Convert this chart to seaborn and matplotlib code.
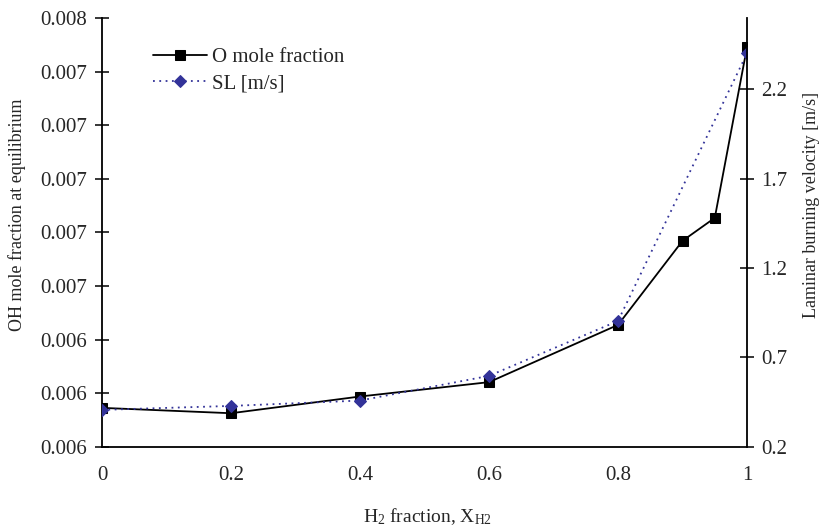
import pandas as pd
import matplotlib
matplotlib.use("Agg")
import matplotlib.pyplot as plt
import seaborn as sns

# Data
h2_fraction = [0.0, 0.2, 0.4, 0.6, 0.8, 0.9, 0.95, 1.0]
o_mole_fraction = [0.006182, 0.006157, 0.006235, 0.006302, 0.006569, 0.006961, 0.007068, 0.007865]
sl_x = [0.0, 0.2, 0.4, 0.6, 0.8, 1.0]
sl_values = [0.407, 0.429, 0.459, 0.597, 0.904, 2.40]

left_ticks = [0.006, 0.00625, 0.0065, 0.00675, 0.007, 0.00725, 0.0075, 0.00775, 0.008]
left_labels = ["0.006", "0.006", "0.006", "0.007", "0.007", "0.007", "0.007", "0.007", "0.008"]
right_ticks = [0.2, 0.7, 1.2, 1.7, 2.2]
x_ticks = [0, 0.2, 0.4, 0.6, 0.8, 1]

o_df = pd.DataFrame({"x": h2_fraction, "y": o_mole_fraction})
sl_df = pd.DataFrame({"x": sl_x, "y": sl_values})

sns.set_style("white")
plt.rcParams["font.family"] = ["Liberation Serif", "DejaVu Serif"]
plt.rcParams["mathtext.default"] = "regular"

fs = 15
fig = plt.figure(figsize=(8.23, 5.27), dpi=100)
ax = fig.add_axes([0.124, 0.152, 0.7837, 0.8138])
ax2 = ax.twinx()

sns.lineplot(data=o_df, x="x", y="y", ax=ax, color="black", lw=1.3,
             marker="s", markersize=6.5, markeredgecolor="black",
             label="O mole fraction", legend=False)
sns.lineplot(data=sl_df, x="x", y="y", ax=ax2, color="#333399", lw=1.3,
             linestyle=(0, (1, 2.5)), marker="D", markersize=6,
             markeredgecolor="#333399", label="SL [m/s]", legend=False)

ax.set_xlim(0, 1)
ax.set_ylim(0.006, 0.008)
ax2.set_ylim(0.2, 2.597)
ax.set_xticks(x_ticks)
ax.set_xticklabels(["0", "0.2", "0.4", "0.6", "0.8", "1"])
ax.set_yticks(left_ticks)
ax.set_yticklabels(left_labels)
ax2.set_yticks(right_ticks)
ax2.set_yticklabels([f"{v:.1f}" for v in right_ticks])

for a in (ax, ax2):
    a.spines["top"].set_visible(False)
    for s in a.spines.values():
        s.set_linewidth(1.3)
        s.set_color("black")
ax.spines["right"].set_visible(False)
ax2.spines["left"].set_visible(False)
ax2.spines["bottom"].set_visible(False)

ax.tick_params(axis="y", direction="inout", length=10, width=1.3, labelsize=fs, pad=6)
ax.tick_params(axis="x", direction="out", length=6, width=1.3, labelsize=fs, pad=8)
ax2.tick_params(axis="y", direction="inout", length=10, width=1.3, labelsize=fs, pad=5)

ax.set_xlabel("H$_2$ fraction, X$_{H2}$", fontsize=14)
ax.set_ylabel("OH mole fraction at equilibrium", fontsize=13)
ax2.set_ylabel("Laminar burning velocity [m/s]", fontsize=13)
ax.xaxis.set_label_coords(0.505, -0.138)
ax.yaxis.set_label_coords(-0.118, 0.541)
ax2.yaxis.set_label_coords(1.086, 0.564)

h1, l1 = ax.get_legend_handles_labels()
h2, l2 = ax2.get_legend_handles_labels()
ax.legend(h1 + h2, l1 + l2, loc="upper left", bbox_to_anchor=(0.06, 0.96),
          frameon=False, fontsize=fs, handlelength=2.6, handletextpad=0.2,
          labelspacing=0.3, borderaxespad=0.2)

fig.savefig("out.png", dpi=100)
